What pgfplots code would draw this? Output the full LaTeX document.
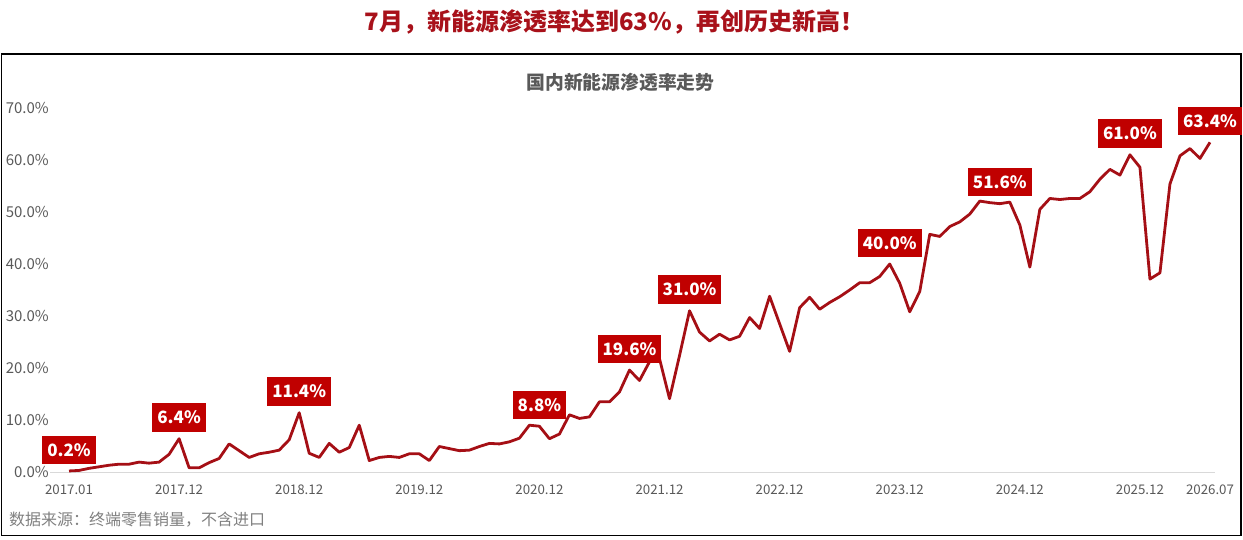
\documentclass[border=0pt]{standalone}
\usepackage{fontspec}
\setmainfont{Noto Sans CJK SC}
\usepackage{pgfplots}
\pgfplotsset{compat=1.18}
\definecolor{titlered}{HTML}{A8111A}
\definecolor{linered}{HTML}{A50F15}
\definecolor{boxred}{HTML}{C00000}
\definecolor{txtgray}{HTML}{595959}
\definecolor{srcgray}{HTML}{808080}
\definecolor{basegray}{HTML}{D9D9D9}
\begin{document}
\begin{tikzpicture}
\path[use as bounding box] (0,0) rectangle (1243pt,540pt);
\draw[line width=1.4pt] (1.5pt,486pt) rectangle (1241pt,4.5pt);
\node[font=\bfseries\fontsize{24}{27}\selectfont, text=titlered] at (614.5pt,518pt) {7月，新能源渗透率达到63\%，再创历史新高！};
\node[font=\bfseries\fontsize{18.8}{21}\selectfont, text=txtgray] at (620.5pt,458pt) {国内新能源渗透率走势};
\node[font=\fontsize{16}{18}\selectfont, text=srcgray, anchor=west, inner sep=0pt] at (9pt,20pt) {数据来源：终端零售销量，不含进口};
\begin{axis}[
  at={(50pt,68pt)}, anchor=south west,
  scale only axis, width=1165pt, height=364pt,
  xmin=-1.9, xmax=114.5, ymin=0, ymax=70,
  clip=false,
  axis x line*=bottom, axis y line*=left,
  x axis line style={draw=basegray, line width=0.8pt, -},
  y axis line style={draw=none},
  tick style={draw=none},
  ytick={0,10,20,30,40,50,60,70},
  yticklabels={0.0\%,10.0\%,20.0\%,30.0\%,40.0\%,50.0\%,60.0\%,70.0\%},
  yticklabel style={font=\fontsize{15}{17}\selectfont, text=txtgray, inner xsep=1pt},
  xtick={0,11,23,35,47,59,71,83,95,107,114},
  xticklabels={2017.01,2017.12,2018.12,2019.12,2020.12,2021.12,2022.12,2023.12,2024.12,2025.12,2026.07},
  xticklabel style={font=\fontsize{13.3}{15}\selectfont, text=txtgray, inner sep=0pt, yshift=-13pt},
]
\addplot[linered, line width=2.8pt, line join=round] coordinates {
(0,0.2)(1,0.3)(2,0.7)(3,1.0)(4,1.3)(5,1.5)(6,1.5)(7,1.9)(8,1.7)(9,1.9)
(10,3.4)(11,6.4)(12,0.8)(13,0.8)(14,1.8)(15,2.6)(16,5.4)(17,4.1)(18,2.8)(19,3.5)
(20,3.8)(21,4.2)(22,6.2)(23,11.4)(24,3.6)(25,2.8)(26,5.5)(27,3.8)(28,4.7)(29,9.0)
(30,2.2)(31,2.8)(32,3.0)(33,2.8)(34,3.5)(35,3.5)(36,2.2)(37,4.9)(38,4.5)(39,4.1)
(40,4.2)(41,4.9)(42,5.5)(43,5.4)(44,5.8)(45,6.5)(46,9.0)(47,8.8)(48,6.4)(49,7.3)
(50,11.0)(51,10.3)(52,10.6)(53,13.5)(54,13.5)(55,15.4)(56,19.6)(57,17.6)(58,21.2)(59,21.8)
(60,14.1)(61,22.4)(62,31.0)(63,26.9)(64,25.2)(65,26.5)(66,25.4)(67,26.1)(68,29.7)(69,27.6)
(70,33.8)(71,28.5)(72,23.2)(73,31.6)(74,33.6)(75,31.3)(76,32.6)(77,33.7)(78,35.0)(79,36.4)
(80,36.4)(81,37.6)(82,40.0)(83,36.3)(84,30.8)(85,34.7)(86,45.7)(87,45.3)(88,47.2)(89,48.1)
(90,49.6)(91,52.1)(92,51.8)(93,51.6)(94,51.9)(95,47.5)(96,39.4)(97,50.5)(98,52.6)(99,52.4)
(100,52.6)(101,52.6)(102,53.9)(103,56.3)(104,58.2)(105,57.1)(106,61.0)(107,58.6)(108,37.1)(109,38.3)
(110,55.4)(111,60.8)(112,62.2)(113,60.3)(114,63.4)
};
\addplot[draw=none, mark=none,
  nodes near coords, point meta=explicit symbolic,
  nodes near coords style={fill=boxred, text=white, anchor=south, yshift=7pt,
    font=\bfseries\fontsize{17}{19}\selectfont, inner xsep=5pt, inner ysep=7.5pt}]
coordinates {
(0,0.2)[0.2\%] (11,6.4)[6.4\%] (23,11.4)[11.4\%] (47,8.8)[8.8\%] (56,19.6)[19.6\%]
(62,31.0)[31.0\%] (82,40.0)[40.0\%] (93,51.6)[51.6\%] (106,61.0)[61.0\%] (114,63.4)[63.4\%]
};
\end{axis}
\end{tikzpicture}
\end{document}
